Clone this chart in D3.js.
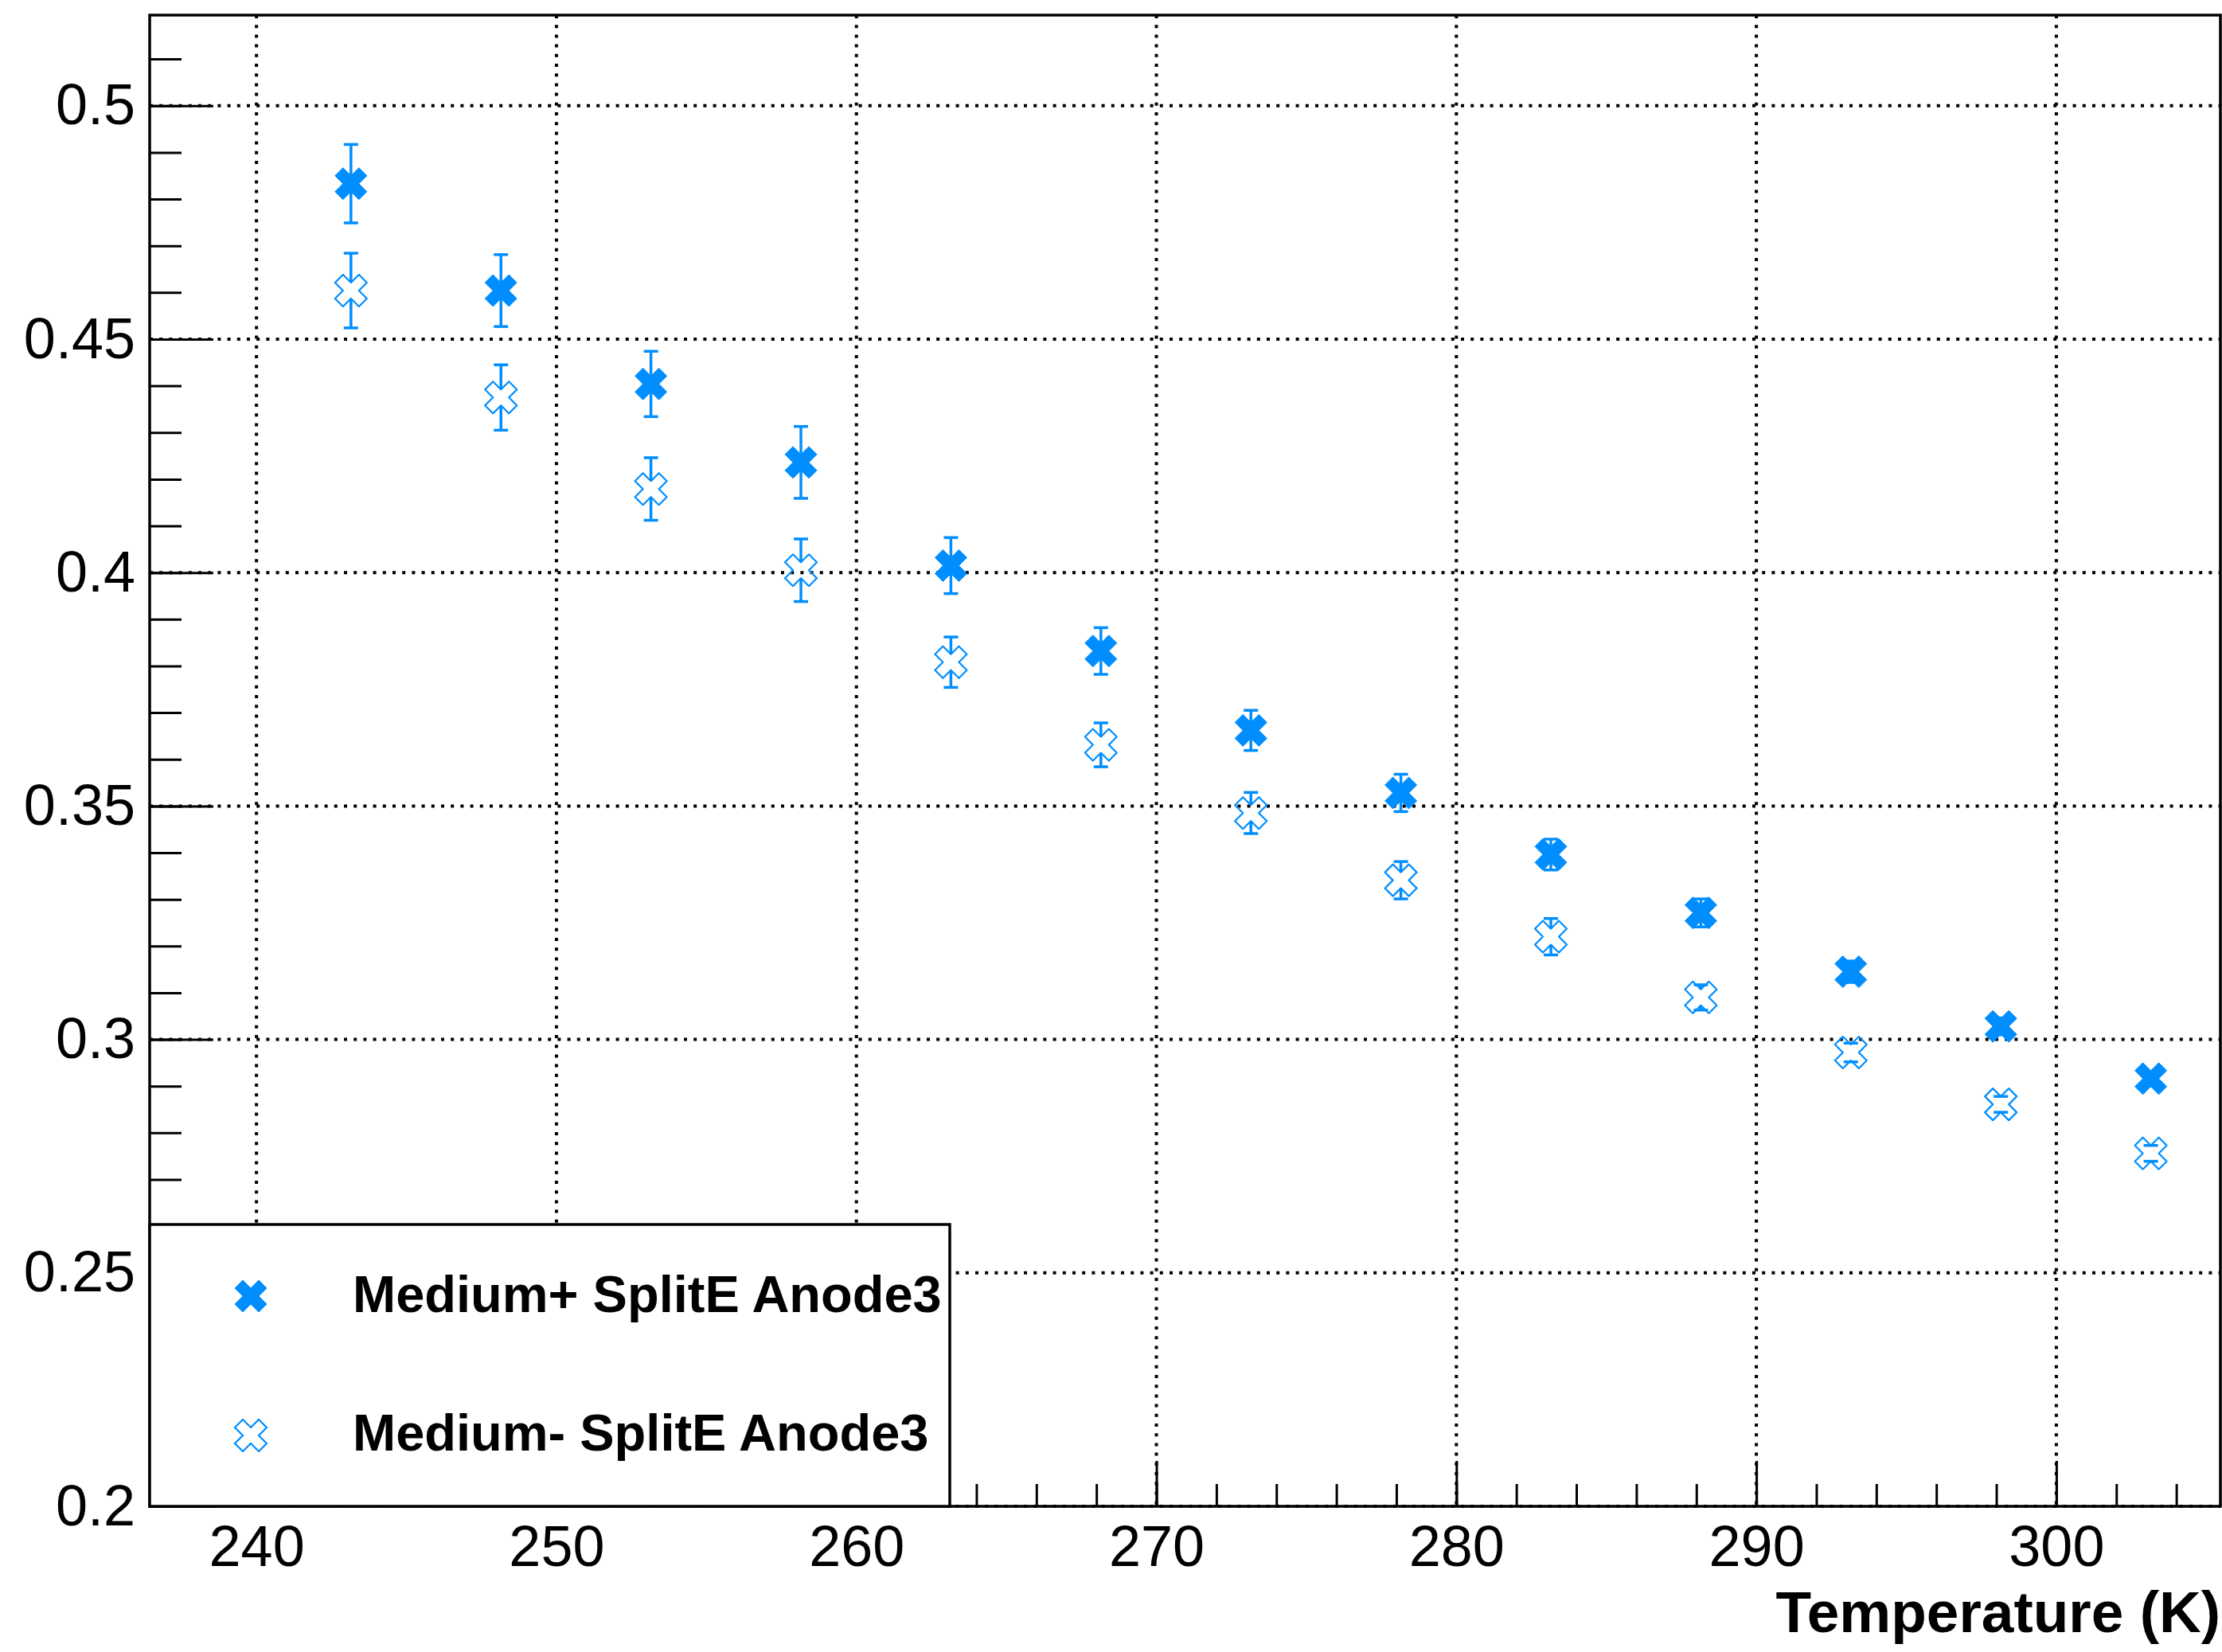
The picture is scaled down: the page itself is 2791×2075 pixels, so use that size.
<!DOCTYPE html>
<html>
<head>
<meta charset="utf-8">
<script src="https://cdn.jsdelivr.net/npm/d3@7"></script>
<style>
  body { margin: 0; background: #fff; }
  svg { display: block; }
  text { font-family: "Liberation Sans", Arial, Helvetica, sans-serif; }
</style>
</head>
<body>
<div id="chart"></div>
<script>
// data (temperature in K)
const temps = [243.15, 248.15, 253.15, 258.15, 263.15, 268.15, 273.15,
               278.15, 283.15, 288.15, 293.15, 298.15, 303.15];
const plusVals = [0.4833, 0.4604, 0.4404, 0.4236, 0.4015, 0.3832, 0.3662,
                  0.3528, 0.3396, 0.3271, 0.3145, 0.3028, 0.2916];
const plusErr = [0.0084, 0.0077, 0.0070, 0.0077, 0.0060, 0.0050, 0.0043,
                 0.0040, 0.0033, 0.0030, 0.0023, 0.0018, 0.0015];
const minusVals = [0.4604, 0.4375, 0.4179, 0.4005, 0.3808, 0.3631, 0.3485,
                   0.3341, 0.3220, 0.3090, 0.2972, 0.2861, 0.2756];
const minusErr = [0.0080, 0.0070, 0.0067, 0.0067, 0.0054, 0.0047, 0.0044,
                  0.0040, 0.0039, 0.0027, 0.0020, 0.0017, 0.0017];

const xTicks = [240, 250, 260, 270, 280, 290, 300];
const yTicks = [0.2, 0.25, 0.3, 0.35, 0.4, 0.45, 0.5];
const seriesNames = ["Medium+ SplitE Anode3", "Medium- SplitE Anode3"];
const xTitle = "Temperature (K)";

const W = 2791, H = 2075;
const margin = {left: 188, top: 19, right: 2, bottom: 183};
const blue = "#008eff";

const svg = d3.select("#chart").append("svg")
  .attr("width", W).attr("height", H);

const iw = W - margin.left - margin.right;
const ih = H - margin.top - margin.bottom;

const x = d3.scaleLinear().domain([236.44, 305.47]).range([0, iw]);
const y = d3.scaleLinear().domain([0.2, 0.5194]).range([ih, 0]);

const plot = svg.append("g")
  .attr("transform", "translate(" + margin.left + "," + margin.top + ")");

// dotted grid at the major ticks
const grid = plot.append("g").attr("class", "grid")
  .attr("stroke", "#000").attr("stroke-width", 4)
  .attr("stroke-dasharray", "4 8.2");
grid.selectAll(".gx").data(xTicks).enter().append("line")
  .attr("x1", d => x(d)).attr("x2", d => x(d))
  .attr("y1", 0).attr("y2", ih);
grid.selectAll(".gy").data(yTicks).enter().append("line")
  .attr("x1", 0).attr("x2", iw)
  .attr("y1", d => y(d)).attr("y2", d => y(d));

// axes, ticks pointing inwards like ROOT
const fmtY = d => String(+d.toFixed(2));
const xMinor = d3.range(238, 306, 2);
const yMinor = d3.range(20, 52).map(d => d / 100);

plot.append("g")
  .attr("transform", "translate(0," + ih + ")")
  .call(d3.axisBottom(x).tickValues(xMinor).tickSize(-28).tickFormat(""));
plot.append("g").attr("class", "xmaj")
  .attr("transform", "translate(0," + ih + ")")
  .call(d3.axisBottom(x).tickValues(xTicks).tickSize(-57).tickPadding(24)
    .tickFormat(d3.format("d")));
plot.append("g")
  .call(d3.axisLeft(y).tickValues(yMinor).tickSize(-40).tickFormat(""));
plot.append("g").attr("class", "ymaj")
  .call(d3.axisLeft(y).tickValues(yTicks).tickSize(-80).tickPadding(18)
    .tickFormat(fmtY));

plot.selectAll(".tick line").attr("stroke", "#000").attr("stroke-width", 3);
plot.selectAll(".domain").remove();
plot.selectAll(".tick text")
  .attr("fill", "#000")
  .style("font-family", "'Liberation Sans', Arial, sans-serif")
  .style("font-size", "72px");

// frame
plot.append("rect")
  .attr("width", iw).attr("height", ih)
  .attr("fill", "none").attr("stroke", "#000").attr("stroke-width", 3.5);

// ROOT style 46/47 x-shaped marker
function crossPath(m) {
  const a = m / 2, b = m / 4;
  const p = [[0, -b], [b, -a], [a, -b], [b, 0], [a, b], [b, a],
             [0, b], [-b, a], [-a, b], [-b, 0], [-a, -b], [-b, -a]];
  return "M" + p.map(q => q.join(",")).join("L") + "Z";
}
const msize = 40;

function drawSeries(vals, errs, filled) {
  const g = plot.append("g");
  const pts = temps.map((t, i) => ({t: t, v: vals[i], e: errs[i]}));

  const eb = g.selectAll(".err").data(pts).enter().append("g")
    .attr("stroke", blue).attr("stroke-width", 3.5);
  const gap = msize / 4;
  eb.filter(d => y(d.v - d.e) - y(d.v) > gap).append("line")
    .attr("x1", d => x(d.t)).attr("x2", d => x(d.t))
    .attr("y1", d => y(d.v + d.e)).attr("y2", d => y(d.v) - gap);
  eb.filter(d => y(d.v - d.e) - y(d.v) > gap).append("line")
    .attr("x1", d => x(d.t)).attr("x2", d => x(d.t))
    .attr("y1", d => y(d.v) + gap).attr("y2", d => y(d.v - d.e));
  [1, -1].forEach(s => {
    eb.append("line")
      .attr("x1", d => x(d.t) - 9).attr("x2", d => x(d.t) + 9)
      .attr("y1", d => y(d.v + s * d.e)).attr("y2", d => y(d.v + s * d.e));
  });

  g.selectAll(".mk").data(pts).enter().append("path")
    .attr("d", crossPath(msize))
    .attr("transform", d => "translate(" + x(d.t) + "," + y(d.v) + ")")
    .attr("fill", filled ? blue : "none")
    .attr("stroke", blue)
    .attr("stroke-width", filled ? 1 : 2.2)
    .attr("stroke-linejoin", "round");
}

drawSeries(plusVals, plusErr, true);
drawSeries(minusVals, minusErr, false);

// legend box in the lower left corner
const legend = svg.append("g").attr("class", "legend");
legend.append("rect")
  .attr("x", margin.left).attr("y", 1538)
  .attr("width", 1193 - margin.left).attr("height", 1892 - 1538)
  .attr("fill", "#fff").attr("stroke", "#000").attr("stroke-width", 3.5);

const legendRows = [
  {name: seriesNames[0], filled: true, cy: 1628, base: 1648},
  {name: seriesNames[1], filled: false, cy: 1803, base: 1822}
];
legendRows.forEach(r => {
  legend.append("path")
    .attr("d", crossPath(msize))
    .attr("transform", "translate(315," + r.cy + ")")
    .attr("fill", r.filled ? blue : "none")
    .attr("stroke", blue)
    .attr("stroke-width", r.filled ? 1 : 2.2);
  legend.append("text")
    .attr("x", 443).attr("y", r.base)
    .attr("font-size", 65).attr("font-weight", "bold")
    .text(r.name);
});

// x axis title, right aligned
svg.append("text")
  .attr("x", 2789).attr("y", 2050)
  .attr("text-anchor", "end")
  .attr("font-size", 73).attr("font-weight", "bold")
  .text(xTitle);
</script>
</body>
</html>
